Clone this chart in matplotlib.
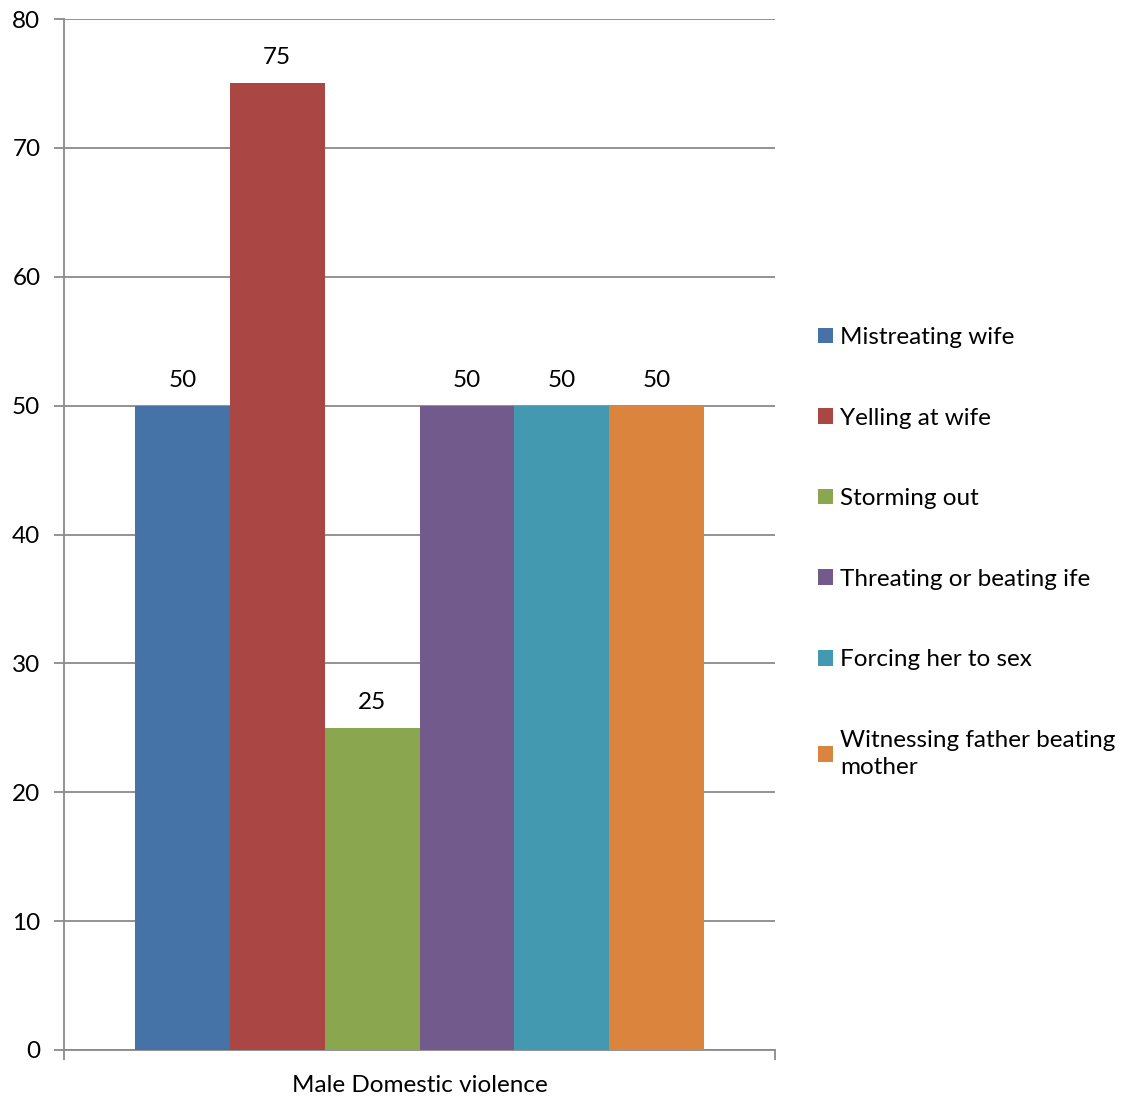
import matplotlib
matplotlib.use("Agg")
import matplotlib.pyplot as plt
import numpy as np

plt.rcParams['font.family'] = ['Lato', 'DejaVu Sans']

categories = ["Male Domestic violence"]
series = ["Mistreating wife", "Yelling at wife", "Storming out",
          "Threating or beating ife", "Forcing her to sex",
          "Witnessing father beating\nmother"]
values = [50, 75, 25, 50, 50, 50]
colors = ["#4673A7", "#AA4744", "#8AA64F", "#725A8D", "#4399B0", "#DB843D"]
yticks = [0, 10, 20, 30, 40, 50, 60, 70, 80]

FS = 17.5

fig = plt.figure(figsize=(11.26, 11.01), dpi=100)
ax = fig.add_axes([64/1126, 51/1101, (775-64)/1126, (1050-19)/1101])

n = len(series)
group = 0.8
w = group / n
handles = []
for i, (s, v, c) in enumerate(zip(series, values, colors)):
    x = -group/2 + w*(i + 0.5)
    b = ax.bar(x, v, width=w, color=c, label=s, zorder=3)
    handles.append(b)
    ax.annotate(f"{v}", (x, v), xytext=(0, 15), textcoords="offset pixels",
                ha="center", va="bottom", fontsize=FS)

ax.set_xlim(-0.5, 0.5)
ax.set_ylim(0, 80)
ax.set_yticks(yticks)
ax.set_xticks([-0.5, 0.5])
ax.set_xticklabels([])
ax.tick_params(axis='x', length=7, width=1.3, color="#8a8a8a", direction='out')
ax.tick_params(axis='y', length=7, width=1.3, color="#8a8a8a", direction='out',
               labelsize=FS, pad=10)
ax.text(0, -0.024, categories[0], transform=ax.get_xaxis_transform(),
        ha="center", va="top", fontsize=FS)
ax.yaxis.grid(True, color="#8a8a8a", linewidth=1.3, zorder=0)
for sp in ["top", "right"]:
    ax.spines[sp].set_visible(False)
for sp in ["left", "bottom"]:
    ax.spines[sp].set_color("#8a8a8a")
    ax.spines[sp].set_linewidth(1.3)

leg = fig.legend(handles=handles, labels=series, loc="upper left",
                 bbox_to_anchor=(818/1126, 1 - 327/1101), frameon=False,
                 fontsize=FS, handlelength=0.62, handleheight=0.62,
                 handletextpad=0.3, labelspacing=2.45, borderaxespad=0,
                 borderpad=0)
for t in leg.get_texts():
    t.set_linespacing(1.35)

fig.savefig("out.png", dpi=100)
